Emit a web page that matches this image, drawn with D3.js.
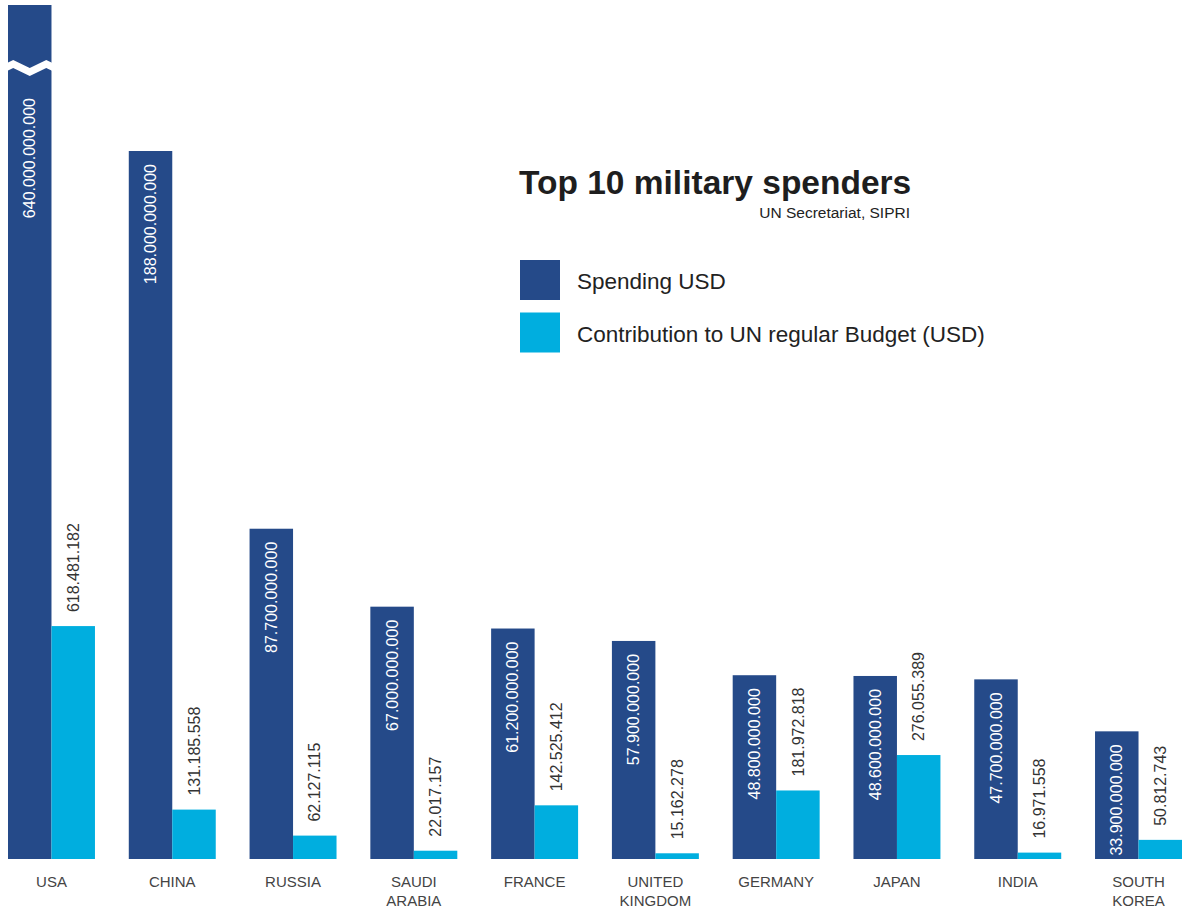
<!DOCTYPE html>
<meta charset="utf-8">
<script src="https://d3js.org/d3.v7.min.js"></script>
<style>
  body { margin: 0; background: #fff; }
  text { font-family: "Liberation Sans", Arial, sans-serif; }
</style>
<div id="chart"></div>
<script>

// data
var countries = ["USA", "CHINA", "RUSSIA", "SAUDI ARABIA", "FRANCE", "UNITED KINGDOM", "GERMANY", "JAPAN", "INDIA", "SOUTH KOREA"];
var countryLines = [["USA"], ["CHINA"], ["RUSSIA"], ["SAUDI", "ARABIA"], ["FRANCE"], ["UNITED", "KINGDOM"], ["GERMANY"], ["JAPAN"], ["INDIA"], ["SOUTH", "KOREA"]];
var spending = [640000000000, 188000000000, 87700000000, 67000000000, 61200000000, 57900000000, 48800000000, 48600000000, 47700000000, 33900000000];
var contribution = [618481182, 131185558, 62127115, 22017157, 142525412, 15162278, 181972818, 276055389, 16971558, 50812743];
var seriesNames = ["Spending USD", "Contribution to UN regular Budget (USD)"];

var width = 1182, height = 911;
var baseline = 859;
var darkBlue = "#254a89", cyan = "#00aedf";

var svg = d3.select("#chart").append("svg")
    .attr("width", width)
    .attr("height", height);

// groups
var x = d3.scaleBand()
    .domain(countries)
    .range([8, 1182])
    .paddingInner(0.28)
    .paddingOuter(0);

var xSub = d3.scaleBand()
    .domain(["spending", "contribution"])
    .range([0, x.bandwidth()]);

// two value scales, same pixel ratio (China spending tops out at y=151)
var ySpend = d3.scaleLinear()
    .domain([0, 188e9])
    .range([baseline, 151]);
var yContrib = d3.scaleLinear()
    .domain([0, 188e7])
    .range([baseline, 151]);

var topLimit = 5; // USA bar is cut at the top

var fmt = d3.formatLocale({decimal: ",", thousands: ".", grouping: [3], currency: ["", ""]}).format(",");

var data = countries.map(function(c, i) {
  return {country: c, lines: countryLines[i], spending: spending[i], contribution: contribution[i]};
});

var g = svg.append("g").selectAll("g")
  .data(data)
  .enter().append("g")
    .attr("transform", function(d) { return "translate(" + x(d.country) + ",0)"; });

// spending bars
g.append("rect")
    .attr("x", xSub("spending"))
    .attr("y", function(d) { return Math.max(topLimit, ySpend(d.spending)); })
    .attr("width", xSub.bandwidth())
    .attr("height", function(d) { return baseline - Math.max(topLimit, ySpend(d.spending)); })
    .attr("fill", darkBlue);

// contribution bars
g.append("rect")
    .attr("x", xSub("contribution"))
    .attr("y", function(d) { return yContrib(d.contribution); })
    .attr("width", xSub.bandwidth())
    .attr("height", function(d) { return baseline - yContrib(d.contribution); })
    .attr("fill", cyan);

// break mark on truncated bars
var bw = xSub.bandwidth();
g.filter(function(d) { return ySpend(d.spending) < topLimit; })
  .append("path")
    .attr("d", function() {
      var x0 = xSub("spending");
      var pts = [
        [x0 - 1, 63], [x0 + bw * 0.12, 60], [x0 + bw * 0.5, 68], [x0 + bw * 0.88, 60], [x0 + bw + 1, 63],
        [x0 + bw + 1, 71], [x0 + bw * 0.88, 68], [x0 + bw * 0.5, 76], [x0 + bw * 0.12, 68], [x0 - 1, 71]
      ];
      return d3.line()(pts) + "Z";
    })
    .attr("fill", "#fff");

// spending labels (inside bars)
g.append("text")
    .attr("transform", function(d) {
      var t = ySpend(d.spending) < topLimit ? 85 : ySpend(d.spending);
      return "translate(" + (xSub("spending") + bw / 2) + "," + (t + 13) + ") rotate(-90)";
    })
    .attr("dy", "0.35em")
    .attr("text-anchor", "end")
    .style("font-size", "16px")
    .attr("fill", "#fff")
    .text(function(d) { return fmt(d.spending); });

// contribution labels (above bars)
g.append("text")
    .attr("transform", function(d) {
      return "translate(" + (xSub("contribution") + bw / 2) + "," + (yContrib(d.contribution) - 14) + ") rotate(-90)";
    })
    .attr("dy", "0.35em")
    .attr("text-anchor", "start")
    .style("font-size", "16px")
    .attr("fill", "#333")
    .text(function(d) { return fmt(d.contribution); });

// country labels
g.append("text")
    .attr("x", x.bandwidth() / 2)
    .attr("y", 887)
    .attr("text-anchor", "middle")
    .style("font-size", "15px")
    .attr("fill", "#444")
    .selectAll("tspan")
    .data(function(d) { return d.lines; })
    .enter().append("tspan")
      .attr("x", x.bandwidth() / 2)
      .attr("dy", function(d, i) { return i === 0 ? 0 : 19; })
      .text(function(d) { return d; });

// title
svg.append("text")
    .attr("x", 519)
    .attr("y", 194)
    .style("font-size", "33.5px")
    .style("font-weight", "bold")
    .attr("fill", "#1e1e1e")
    .text("Top 10 military spenders");

svg.append("text")
    .attr("x", 910)
    .attr("y", 218)
    .attr("text-anchor", "end")
    .style("font-size", "15.5px")
    .attr("fill", "#222")
    .text("UN Secretariat, SIPRI");

// legend
var legend = svg.append("g").selectAll("g")
  .data(seriesNames)
  .enter().append("g")
    .attr("transform", function(d, i) { return "translate(520," + (260 + i * 52.5) + ")"; });

legend.append("rect")
    .attr("width", 40)
    .attr("height", 40)
    .attr("fill", function(d, i) { return i === 0 ? darkBlue : cyan; });

legend.append("text")
    .attr("x", 57)
    .attr("y", 29)
    .style("font-size", "22.5px")
    .attr("fill", "#222")
    .text(function(d) { return d; });

</script>
